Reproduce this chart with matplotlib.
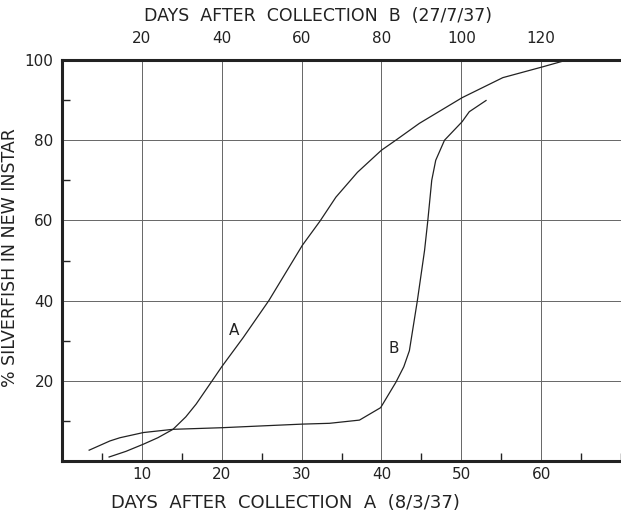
import matplotlib
matplotlib.use("Agg")
import matplotlib.pyplot as plt
from matplotlib.ticker import MultipleLocator

# days after collection A (bottom scale), % in new instar
days_a = [5.9, 8.0, 10.2, 12.0, 13.9, 15.5, 16.8, 18.8, 20.0, 22.7, 25.9, 30.1,
          32.3, 34.3, 37.0, 40.0, 41.8, 44.75, 50.1, 55.2, 60.2, 62.7]
pct_a = [1.0, 2.4, 4.2, 5.8, 7.9, 11.0, 14.2, 20.0, 23.5, 30.8, 40.0, 53.8,
         59.8, 65.8, 72.0, 77.5, 80.0, 84.2, 90.6, 95.6, 98.3, 99.7]

days_b = [3.4, 6.0, 7.25, 10.2, 13.9, 20.0, 25.0, 30.1, 33.5, 37.25, 39.9, 41.8,
          42.8, 43.5, 44.5, 45.4, 45.8, 46.3, 46.8, 47.9, 50.1, 51.0, 53.1]
pct_b = [2.7, 5.0, 5.8, 7.1, 7.9, 8.3, 8.75, 9.2, 9.4, 10.2, 13.3, 19.6,
         23.5, 27.5, 40.0, 52.5, 59.8, 70.0, 75.0, 80.0, 84.6, 87.1, 89.9]

bottom_ticks = [10, 20, 30, 40, 50, 60]
top_ticks = [20, 40, 60, 80, 100, 120]
y_ticks = [20, 40, 60, 80, 100]

ink = "#222222"

fig = plt.figure(figsize=(6.21, 5.22), dpi=100)
ax = fig.add_axes([62 / 621, 61 / 522, 1 - 62 / 621, 401 / 522])

ax.plot(days_a, pct_a, color=ink, lw=0.9)
ax.plot(days_b, pct_b, color=ink, lw=0.9)
ax.text(21.5, 32.5, "A", fontsize=11, color=ink, ha="center", va="center")
ax.text(41.5, 28.0, "B", fontsize=11, color=ink, ha="center", va="center")

ax.set_xlim(0, 70)
ax.set_ylim(0, 100)
ax.set_xticks(bottom_ticks)
ax.set_yticks(y_ticks)
ax.xaxis.set_minor_locator(MultipleLocator(5))
ax.yaxis.set_minor_locator(MultipleLocator(10))
ax.grid(True, which="major", color="#666666", lw=0.7)
ax.tick_params(which="major", length=0, labelsize=11, colors=ink)
ax.tick_params(axis="x", which="major", pad=4)
ax.tick_params(axis="y", which="major", pad=6)
ax.tick_params(which="minor", direction="in", length=6, width=1, color=ink)

for side in ("left", "bottom", "top"):
    ax.spines[side].set_linewidth(2.2)
    ax.spines[side].set_color(ink)
ax.spines["right"].set_visible(False)

top = ax.secondary_xaxis("top", functions=(lambda d: 2 * d, lambda d: d / 2))
top.set_xticks(top_ticks)
top.tick_params(length=0, labelsize=11, pad=10, colors=ink)
top.spines["top"].set_visible(False)

fig.text(10 / 621, 1 - 258 / 522, "% SILVERFISH IN NEW INSTAR", fontsize=12.5,
         color=ink, rotation=90, ha="center", va="center")
fig.text(285 / 621, 1 - 503 / 522, "DAYS  AFTER  COLLECTION  A  (8/3/37)",
         fontsize=13, color=ink, ha="center", va="center")
fig.text(318 / 621, 1 - 16 / 522, "DAYS  AFTER  COLLECTION  B  (27/7/37)",
         fontsize=12.5, color=ink, ha="center", va="center")

fig.savefig("out.png", dpi=100)
